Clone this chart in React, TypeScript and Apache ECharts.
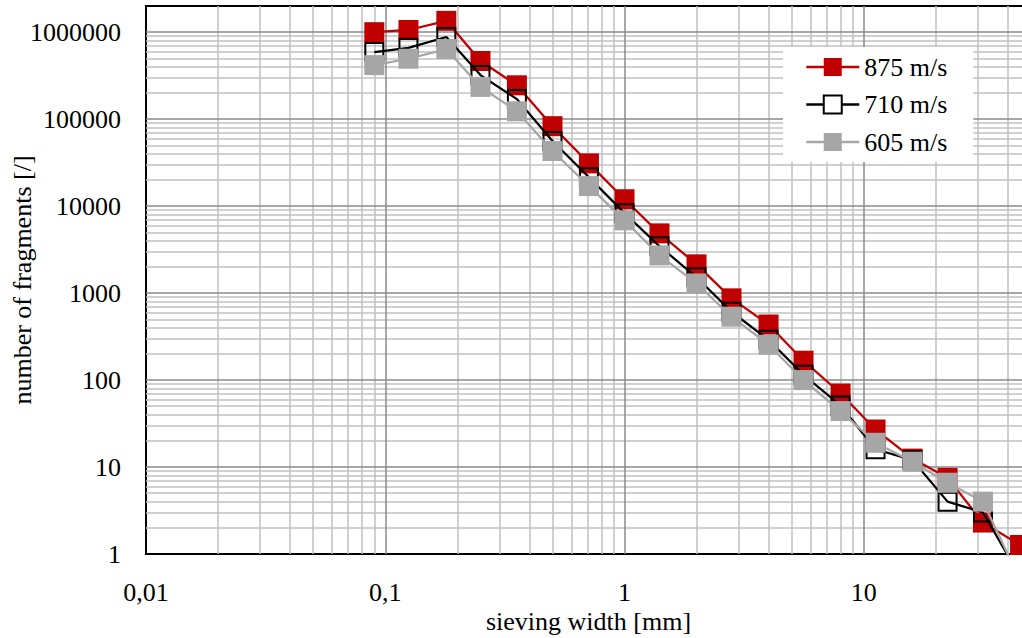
import React, { useEffect, useRef } from 'react';
import * as echarts from 'echarts';

// sieving widths [mm]
const sieveWidths = [0.09, 0.125, 0.18, 0.25, 0.355, 0.5, 0.71, 1, 1.4, 2, 2.8, 4, 5.6, 8, 11.2, 16, 22.4, 31.5, 45];
// number of fragments per velocity
const v875 = [1000000, 1060000, 1350000, 466000, 245000, 83000, 31000, 12000, 4860, 2140, 870, 435, 167, 70, 27, 12.5, 7.5, 2.3, 1.27];
const v710 = [590000, 660000, 880000, 321000, 170000, 56000, 21500, 8300, 3460, 1520, 610, 290, 115, 51, 16, 12, 4.0, 3.0, 0.55];
const v605 = [418000, 495000, 640000, 235000, 123000, 43000, 17000, 6860, 2710, 1290, 535, 255, 100, 44, 19, 11.5, 6.6, 4.0, 0.5];
const seriesNames = ['875 m/s', '710 m/s', '605 m/s'];

// axis ranges and decade tick values
const xMin = 0.01;
const xMax = 50;
const yMin = 1;
const yMax = 2000000;
const xDecades = [0.01, 0.1, 1, 10];
const yDecades = [1, 10, 100, 1000, 10000, 100000, 1000000];
const minorSteps = [2, 3, 4, 5, 6, 7, 8, 9];

const FONT = 'Liberation Serif';

function minorValues(decades: number[], max: number) {
  const out: number[] = [];
  decades.forEach((d) => {
    minorSteps.forEach((k) => {
      const v = parseFloat((k * d).toPrecision(4));
      if (v < max) out.push(v);
    });
  });
  return out;
}

export default function App() {
  const ref = useRef<HTMLDivElement>(null);
  useEffect(() => {
    if (!ref.current) return;
    const chart = echarts.init(ref.current, undefined, { renderer: 'svg' });

    const xMinor = minorValues(xDecades, xMax);
    const yMinor = minorValues(yDecades, yMax);
    const xMajor = xDecades.filter((v) => v > xMin);
    const yMajor = yDecades.filter((v) => v > yMin);

    const gridLineSeries = (name: string, xs: number[], ys: number[], color: string, z: number) => ({
      name,
      type: 'line',
      data: [],
      z,
      silent: true,
      markLine: {
        z,
        silent: true,
        symbol: ['none', 'none'],
        label: { show: false },
        emphasis: { disabled: true },
        lineStyle: { color, width: 1.5, type: 'solid' },
        data: [...xs.map((v) => ({ xAxis: v })), ...ys.map((v) => ({ yAxis: v }))],
      },
    });

    const pts = (vals: number[]) => sieveWidths.map((x, i) => [x, vals[i]]);

    chart.setOption({
      animation: false,
      backgroundColor: '#fff',
      grid: {
        left: 146,
        right: 9,
        top: 6,
        bottom: 84,
        outerBoundsMode: 'none',
        containLabel: false,
        show: true,
        borderColor: '#000',
        borderWidth: 2,
        backgroundColor: 'transparent',
      },
      legend: {
        orient: 'vertical',
        left: 783,
        top: 47,
        z: 10,
        backgroundColor: '#fff',
        padding: [7, 26, 7, 22],
        itemGap: 11.5,
        itemWidth: 53,
        itemHeight: 22.5,
        lineStyle: { width: 2.5 },
        textStyle: { fontSize: 26, fontFamily: FONT, color: '#000' },
        data: [
          { name: seriesNames[0] },
          { name: seriesNames[1], itemStyle: { color: '#fff' } },
          { name: seriesNames[2] },
        ],
      },
      xAxis: {
        type: 'log',
        logBase: 10,
        min: xMin,
        max: xMax,
        axisLine: { show: false },
        axisTick: { show: false },
        splitLine: { show: false },
        axisLabel: {
          showMaxLabel: false,
          margin: 28,
          lineHeight: 20,
          fontSize: 26,
          fontFamily: FONT,
          color: '#000',
          formatter: (v: number) => parseFloat(v.toPrecision(6)).toString().replace('.', ','),
        },
        name: 'sieving width [mm]',
        nameLocation: 'middle',
        nameGap: 54,
        nameMoveOverlap: false,
        nameTextStyle: { fontSize: 26, lineHeight: 26, fontFamily: FONT, color: '#000' },
      },
      yAxis: {
        type: 'log',
        logBase: 10,
        min: yMin,
        max: yMax,
        axisLine: { show: false },
        axisTick: { show: false },
        splitLine: { show: false },
        axisLabel: {
          showMaxLabel: false,
          margin: 25,
          fontSize: 26,
          fontFamily: FONT,
          color: '#000',
          formatter: (v: number) => String(Math.round(v)),
        },
        name: 'number of fragments [/]',
        nameLocation: 'middle',
        nameGap: 111,
        nameMoveOverlap: false,
        nameTextStyle: { fontSize: 26, fontFamily: FONT, color: '#000' },
      },
      series: [
        gridLineSeries('minorGrid', xMinor, yMinor, '#c0c0c0', 1),
        gridLineSeries('majorGrid', xMajor, yMajor, '#8a8a8a', 2),
        {
          name: seriesNames[0],
          type: 'line',
          z: 3,
          data: pts(v875),
          symbol: 'rect',
          symbolSize: 20,
          lineStyle: { color: '#c00000', width: 2.25 },
          itemStyle: { color: '#c00000' },
        },
        {
          name: seriesNames[1],
          type: 'line',
          z: 4,
          data: pts(v710),
          symbol: 'rect',
          symbolSize: 18,
          lineStyle: { color: '#000', width: 2.25 },
          itemStyle: { color: 'transparent', borderColor: '#000', borderWidth: 2 },
        },
        {
          name: seriesNames[2],
          type: 'line',
          z: 5,
          data: pts(v605),
          symbol: 'rect',
          symbolSize: 20,
          lineStyle: { color: '#a6a6a6', width: 2.25 },
          itemStyle: { color: '#a6a6a6' },
        },
      ],
    });
    return () => chart.dispose();
  }, []);

  return (
    <div
      style={{
        position: 'fixed',
        left: 0,
        top: 0,
        width: 1022,
        height: 638,
        overflow: 'hidden',
        background: '#fff',
      }}
    >
      <div ref={ref} style={{ width: 1040, height: 638 }} />
    </div>
  );
}
